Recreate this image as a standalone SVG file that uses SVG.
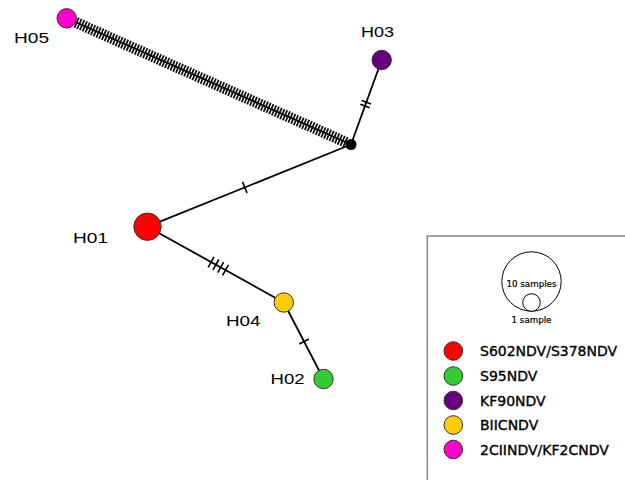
<svg xmlns="http://www.w3.org/2000/svg" width="625" height="480" viewBox="0 0 625 480">
<style>
.edge{stroke:#000;stroke-width:1.8;fill:none}
.tick{stroke:#000;stroke-width:1.6;fill:none}
.hatch{stroke:#111;stroke-width:11;stroke-dasharray:1.8 1.2;fill:none}
.node{stroke:#333;stroke-width:1}
.lbl{font-family:"Liberation Sans",Arial,sans-serif;font-size:15.5px;fill:#000}
.leg{font-family:"DejaVu Sans",Verdana,sans-serif;font-size:14px;fill:#000;stroke:#000;stroke-width:0.35}
.small{font-family:"DejaVu Sans",Verdana,sans-serif;font-size:8.7px;fill:#000;stroke:#000;stroke-width:0.2;text-anchor:middle}
</style>
<rect x="0" y="0" width="625" height="480" fill="#fff"/>
<g id="connectors">
  <line class="edge" x1="66.7" y1="18.3" x2="351" y2="144.5"/>
  <line class="hatch" x1="75.8" y1="22.4" x2="346.4" y2="142.5"/>
  <line class="edge" x1="147.5" y1="226.7" x2="351" y2="144.5"/>
  <line class="tick" x1="242.55" y1="181.84" x2="247.05" y2="192.96"/>
  <line class="edge" x1="351" y1="144.5" x2="381.7" y2="60"/>
  <line class="tick" x1="360.3" y1="104.3" x2="369.7" y2="107.7"/>
  <line class="tick" x1="361.67" y1="100.49" x2="371.07" y2="103.91"/>
  <line class="edge" x1="147.5" y1="226.7" x2="283.8" y2="302.5"/>
  <line class="tick" x1="214.0" y1="256.82" x2="208.16" y2="267.3"/>
  <line class="tick" x1="218.81" y1="259.49" x2="212.97" y2="269.97"/>
  <line class="tick" x1="223.62" y1="262.16" x2="217.78" y2="272.64"/>
  <line class="tick" x1="228.42" y1="264.84" x2="222.58" y2="275.32"/>
  <line class="edge" x1="283.8" y1="302.5" x2="323.5" y2="379"/>
  <line class="tick" x1="308.95" y1="339.02" x2="299.19" y2="344.08"/>
</g>
<g id="median">
  <circle cx="351" cy="144.5" r="5.5" fill="#000"/>
</g>
<g id="H05">
  <circle class="node" cx="66.7" cy="18.3" r="9.7" fill="#ff00cc"/>
  <text class="lbl" x="14" y="43" textLength="35" lengthAdjust="spacingAndGlyphs">H05</text>
</g>
<g id="H03">
  <circle class="node" cx="381.7" cy="60" r="9.7" fill="#660080"/>
  <text class="lbl" x="361" y="37" textLength="33" lengthAdjust="spacingAndGlyphs">H03</text>
</g>
<g id="H01">
  <circle class="node" cx="147.5" cy="226.7" r="13.7" fill="#ff0000"/>
  <text class="lbl" x="73" y="243" textLength="35" lengthAdjust="spacingAndGlyphs">H01</text>
</g>
<g id="H04">
  <circle class="node" cx="283.8" cy="302.5" r="9.7" fill="#ffcc00"/>
  <text class="lbl" x="226" y="326" textLength="34.5" lengthAdjust="spacingAndGlyphs">H04</text>
</g>
<g id="H02">
  <circle class="node" cx="323.5" cy="379" r="9.7" fill="#33cc33"/>
  <text class="lbl" x="270.5" y="383.5" textLength="34" lengthAdjust="spacingAndGlyphs">H02</text>
</g>
<g id="legend">
  <rect x="427.3" y="236" width="220" height="260" fill="#fff" stroke="#888" stroke-width="1.5"/>
  <circle cx="531.5" cy="281.5" r="29.7" fill="#fff" stroke="#000" stroke-width="1"/>
  <circle cx="531.5" cy="302.5" r="8.8" fill="#fff" stroke="#000" stroke-width="1"/>
  <text class="small" x="531.5" y="287">10 samples</text>
  <text class="small" x="531.5" y="322.5">1 sample</text>
  <circle class="node" cx="453.3" cy="351" r="9.3" fill="#ff0000"/>
  <text class="leg" x="480" y="356">S602NDV/S378NDV</text>
  <circle class="node" cx="453.3" cy="376" r="9.3" fill="#33cc33"/>
  <text class="leg" x="480" y="381">S95NDV</text>
  <circle class="node" cx="453.3" cy="400.5" r="9.3" fill="#660080"/>
  <text class="leg" x="480" y="405.5">KF90NDV</text>
  <circle class="node" cx="453.3" cy="425" r="9.3" fill="#ffcc00"/>
  <text class="leg" x="480" y="430">BIICNDV</text>
  <circle class="node" cx="453.3" cy="449.5" r="9.3" fill="#ff00cc"/>
  <text class="leg" x="480" y="454.5">2CIINDV/KF2CNDV</text>
</g>
</svg>
